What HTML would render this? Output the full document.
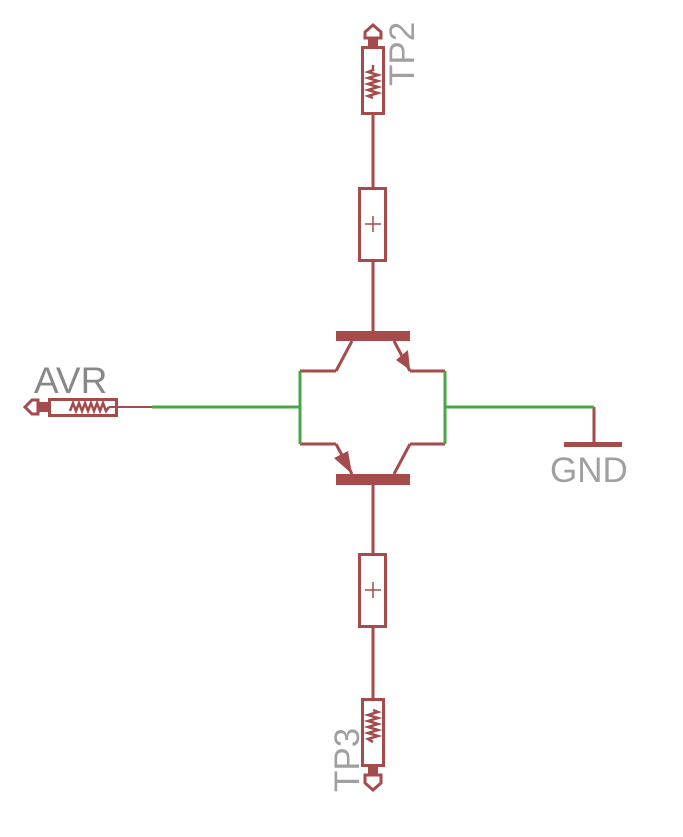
<!DOCTYPE html>
<html><head><meta charset="utf-8"><style>
html,body{margin:0;padding:0;background:#fff;}
svg{display:block}
text{font-family:"Liberation Sans",sans-serif;fill:#a0a0a0}
</style></head><body>
<svg width="683" height="837" viewBox="0 0 683 837" xmlns="http://www.w3.org/2000/svg">
<g stroke="#a54b4b" fill="none" stroke-width="3">
 <polygon points="373,25 381,32 381,38 365,38 365,32" />
 <rect x="368" y="38" width="10" height="9" fill="#a54b4b" stroke="none"/>
 <rect x="362.5" y="47.5" width="21" height="66"/>
 <polyline stroke-width="2.5" points="373,65 373,70 368,72 378,75 368,78 378,81 368,84 378,87 368,90 378,93 368,96 373,98"/>
 <line x1="373" y1="114" x2="373" y2="187"/>
 <rect x="359.5" y="188.5" width="26" height="72"/>
 <line x1="365" y1="224" x2="381" y2="224" stroke-width="1.5"/>
 <line x1="373" y1="216" x2="373" y2="232" stroke-width="1.5"/>
 <line x1="373" y1="261" x2="373" y2="331"/>
 <rect x="336" y="331" width="74" height="10" fill="#a54b4b" stroke="none"/>
 <line x1="352" y1="341" x2="336" y2="371"/>
 <line x1="300" y1="371" x2="336" y2="371"/>
 <line x1="394" y1="341" x2="410" y2="371"/>
 <line x1="410" y1="371" x2="445" y2="371"/>
 <polygon points="410,370 396,360 408,350" fill="#a54b4b" stroke="none"/>
 <rect x="336" y="474" width="74" height="11" fill="#a54b4b" stroke="none"/>
 <line x1="300" y1="444" x2="336" y2="444"/>
 <line x1="336" y1="444" x2="352" y2="474"/>
 <polygon points="352,474 334,458 348,451" fill="#a54b4b" stroke="none"/>
 <line x1="410" y1="444" x2="445" y2="444"/>
 <line x1="410" y1="444" x2="394" y2="474"/>
 <line x1="373" y1="485" x2="373" y2="553"/>
 <rect x="359.5" y="554.5" width="26" height="72"/>
 <line x1="365" y1="590" x2="381" y2="590" stroke-width="1.5"/>
 <line x1="373" y1="582" x2="373" y2="598" stroke-width="1.5"/>
 <line x1="373" y1="627" x2="373" y2="698"/>
 <rect x="362.5" y="699.5" width="21" height="66"/>
 <polyline stroke-width="2.5" points="373,710 378,712 368,715 378,718 368,721 378,724 368,727 378,730 368,733 378,736 368,739 373,742"/>
 <rect x="368" y="766" width="10" height="9" fill="#a54b4b" stroke="none"/>
 <polygon points="373,790 381,783 381,775 365,775 365,783"/>
 <polygon points="25,407 32,400 38,400 38,414 32,414"/>
 <rect x="38" y="402" width="10" height="10" fill="#a54b4b" stroke="none"/>
 <rect x="49.5" y="399.5" width="67" height="16"/>
 <polyline stroke-width="2.5" points="70,411 73,403 76,411 79,403 82,411 85,403 88,411 91,403 94,411 97,403 100,411 103,403 106,411 109,407"/>
 <line x1="109" y1="407" x2="152" y2="407" stroke-width="2"/>
 <line x1="594" y1="407" x2="594" y2="444"/>
 <rect x="564" y="442" width="58" height="5" fill="#a54b4b" stroke="none"/>
</g>
<g stroke="#4aa544" fill="none" stroke-width="3">
 <line x1="152" y1="407" x2="300" y2="407"/>
 <line x1="300" y1="371" x2="300" y2="444"/>
 <line x1="445" y1="371" x2="445" y2="444"/>
 <line x1="445" y1="407" x2="594" y2="407"/>
</g>
<text x="34" y="393" font-size="37" style="fill:#888">AVR</text>
<text x="550" y="482" font-size="35">GND</text>
<text transform="translate(414,86) rotate(-90)" font-size="35">TP2</text>
<text transform="translate(359,792) rotate(-90)" font-size="35">TP3</text>
</svg>
</body></html>
